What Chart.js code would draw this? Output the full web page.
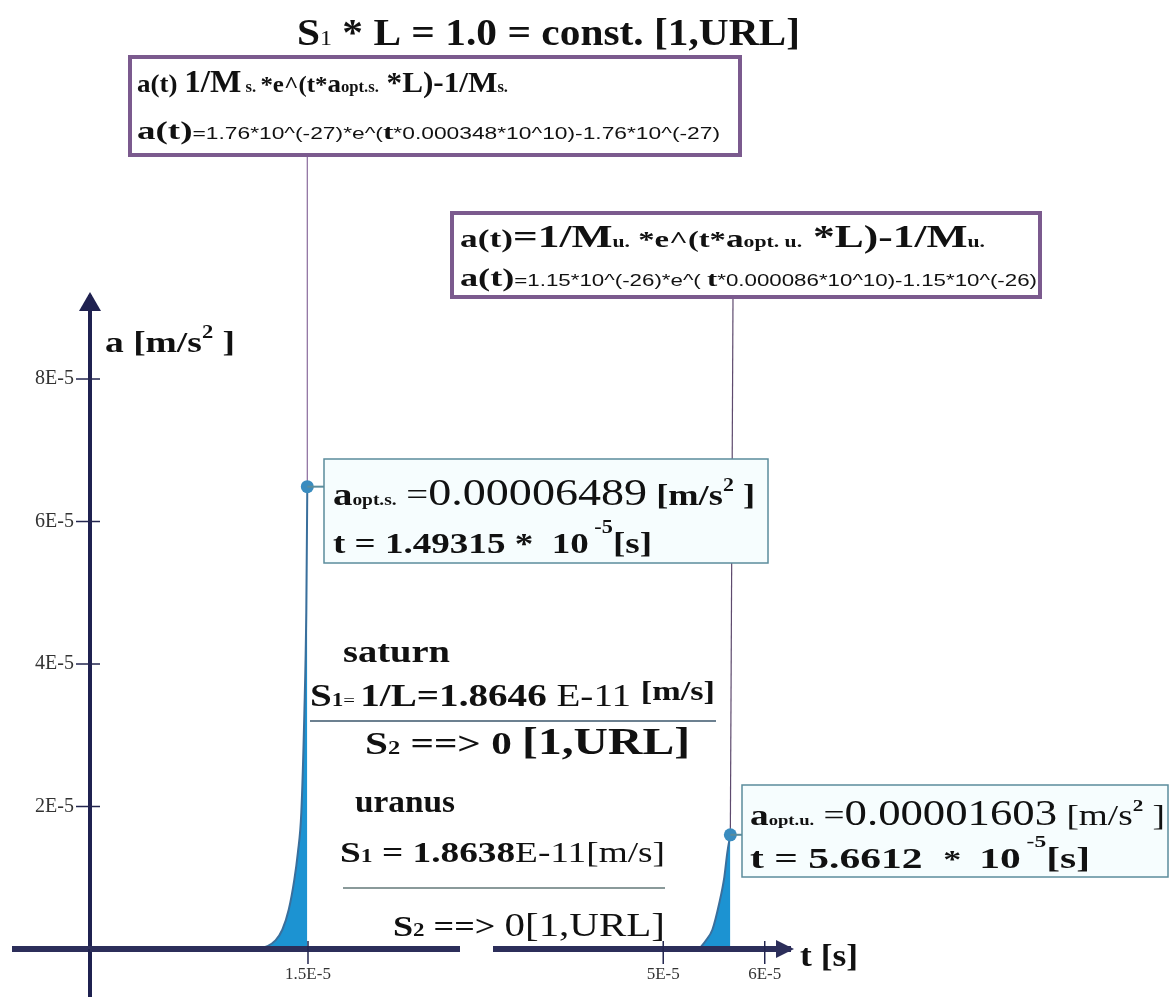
<!DOCTYPE html>
<html>
<head>
<meta charset="utf-8">
<script src="https://cdn.jsdelivr.net/npm/chart.js@4"></script>
<style>
  html, body { margin: 0; padding: 0; background: #ffffff; }
  canvas { display: block; }
</style>
</head>
<body>
<canvas id="c" width="1173" height="997"></canvas>
<script>
// Saturn: rising branch of a(t) up to the optimum point
const saturnTime  = [1.00e-5, 1.10e-5, 1.18e-5, 1.247e-5, 1.31e-5, 1.365e-5, 1.40e-5, 1.434e-5, 1.464e-5, 1.483e-5, 1.49315e-5];
const saturnAccel = [0, 0.04e-5, 0.12e-5, 0.27e-5, 0.55e-5, 0.97e-5, 1.35e-5, 1.91e-5, 3.31e-5, 4.72e-5, 6.489e-5];

// Uranus: rising branch of a(t) up to the optimum point
const uranusTime  = [5.356e-5, 5.42e-5, 5.484e-5, 5.553e-5, 5.602e-5, 5.631e-5, 5.6612e-5];
const uranusAccel = [0, 0.12e-5, 0.27e-5, 0.65e-5, 1.01e-5, 1.35e-5, 1.603e-5];

// Optimum points (a_opt, t)
const optTime  = [1.49315e-5, 5.6612e-5];
const optAccel = [6.489e-5, 1.603e-5];

// Axis ticks
const xTickValues = [1.5e-5, 5e-5, 6e-5];
const xTickLabels = ['1.5E-5', '5E-5', '6E-5'];
const yTickValues = [2e-5, 4e-5, 6e-5, 8e-5];
const yTickLabels = ['2E-5', '4E-5', '6E-5', '8E-5'];

const SERIF = '"Liberation Serif", "Times New Roman", serif';
const NARROW = '"Liberation Sans Narrow", "Liberation Sans", Arial, sans-serif';
const INK = '#111111';
const AXIS_X_COLOR = '#2c2e5a';
const AXIS_Y_COLOR = '#1f2150';

function toPoints(xs, ys) { return xs.map((x, i) => ({ x: x, y: ys[i] })); }

// Draw a line of mixed-font runs; optionally squeeze it to a given width
function drawRuns(ctx, x, y, runs, width) {
  let total = 0;
  runs.forEach(r => { ctx.font = r[1]; total += ctx.measureText(r[0]).width; });
  const sx = width ? width / total : 1;
  ctx.save();
  ctx.translate(x, y);
  ctx.scale(sx, 1);
  ctx.fillStyle = INK;
  ctx.textBaseline = 'alphabetic';
  ctx.textAlign = 'left';
  let cx = 0;
  runs.forEach(r => {
    ctx.font = r[1];
    ctx.fillText(r[0], cx, r[2] || 0);
    cx += ctx.measureText(r[0]).width;
  });
  ctx.restore();
}
function f(size, bold, fam) { return (bold ? 'bold ' : '') + size + 'px ' + (fam || SERIF); }

function box(ctx, x, y, w, h, stroke, lw, fill) {
  ctx.save();
  ctx.fillStyle = fill;
  ctx.fillRect(x, y, w, h);
  ctx.strokeStyle = stroke;
  ctx.lineWidth = lw;
  ctx.strokeRect(x, y, w, h);
  ctx.restore();
}
function line(ctx, x1, y1, x2, y2, color, lw) {
  ctx.save();
  ctx.strokeStyle = color;
  ctx.lineWidth = lw;
  ctx.beginPath();
  ctx.moveTo(x1, y1);
  ctx.lineTo(x2, y2);
  ctx.stroke();
  ctx.restore();
}

const overlay = {
  id: 'overlay',
  beforeDatasetsDraw(chart) {
    const ctx = chart.ctx;
    const xs = chart.scales.x, ys = chart.scales.y;
    const axisY = ys.getPixelForValue(0);
    const axisX = chart.chartArea.left;
    // axes continue past their crossing point
    line(ctx, 12, axisY, axisX, axisY, AXIS_X_COLOR, 6);
    line(ctx, axisX, axisY, axisX, chart.height, AXIS_Y_COLOR, 4);
    const sx = xs.getPixelForValue(optTime[0]), sy = ys.getPixelForValue(optAccel[0]);
    const ux = xs.getPixelForValue(optTime[1]), uy = ys.getPixelForValue(optAccel[1]);
    // leader lines from the formula boxes down to the optimum points
    line(ctx, sx, 155, sx, sy, '#8a6a9c', 1.2);
    line(ctx, 733, 297, ux, uy, '#5e4a6e', 1.2);
  },
  afterDatasetsDraw(chart) {
    const ctx = chart.ctx;
    const xs = chart.scales.x, ys = chart.scales.y;
    const axisY = ys.getPixelForValue(0);
    const axisX = chart.chartArea.left;

    // redraw the time axis over the foot of the filled areas, with its break
    line(ctx, axisX, axisY, chart.chartArea.right, axisY, AXIS_X_COLOR, 6);
    ctx.save();
    ctx.fillStyle = '#ffffff';
    ctx.fillRect(460, axisY - 6, 33, 12);
    ctx.restore();

    // crossing tick marks
    xTickValues.forEach(v => {
      const px = xs.getPixelForValue(v);
      line(ctx, px, axisY - 8, px, axisY + 15, '#22254f', 1.5);
    });
    yTickValues.forEach(v => {
      const py = ys.getPixelForValue(v);
      line(ctx, axisX - 14, py, axisX + 10, py, '#22254f', 1.5);
    });

    // arrow heads
    ctx.save();
    ctx.fillStyle = AXIS_Y_COLOR;
    ctx.beginPath();
    ctx.moveTo(axisX, 292);
    ctx.lineTo(axisX - 11, 311);
    ctx.lineTo(axisX + 11, 311);
    ctx.closePath();
    ctx.fill();
    ctx.fillStyle = AXIS_X_COLOR;
    ctx.beginPath();
    ctx.moveTo(794, axisY);
    ctx.lineTo(776, axisY - 9);
    ctx.lineTo(776, axisY + 9);
    ctx.closePath();
    ctx.fill();
    ctx.restore();

    const sx = xs.getPixelForValue(optTime[0]), sy = ys.getPixelForValue(optAccel[0]);
    const ux = xs.getPixelForValue(optTime[1]), uy = ys.getPixelForValue(optAccel[1]);

    // title
    drawRuns(ctx, 297, 45, [
      ['S', f(38, true)], ['1', f(22, false)], [' * L = 1.0 = const. ', f(38, true)], ['[1,URL]', f(38, true)]
    ], 503);

    // Saturn formula box
    box(ctx, 130, 57, 610, 98, '#7b5a8e', 4, '#ffffff');
    drawRuns(ctx, 137, 92, [
      ['a(t) ', f(26, true)], ['1/M', f(32, true)], [' s. ', f(16, true)], ['*e^(t*', f(24, true)],
      ['a', f(26, true)], ['opt.s.', f(16, true)], [' *L)-1/M', f(30, true)], ['s.', f(16, true)]
    ], 371);
    drawRuns(ctx, 137, 139, [
      ['a(t)', f(26, true)], ['=1.76*10^(-27)*e^(', f(16, false, NARROW)], ['t', f(22, true)],
      ['*0.000348*10^10)-1.76*10^(-27)', f(16, false, NARROW)]
    ], 583);

    // Uranus formula box
    box(ctx, 452, 213, 588, 84, '#7b5a8e', 4, '#ffffff');
    drawRuns(ctx, 460, 247, [
      ['a(t)', f(26, true)], ['=1/M', f(32, true)], ['u.', f(16, true)], [' *e^(t*', f(24, true)],
      ['a', f(26, true)], ['opt. u.', f(16, true)], [' *L)-1/M', f(32, true)], ['u.', f(16, true)]
    ], 525);
    drawRuns(ctx, 460, 286, [
      ['a(t)', f(26, true)], ['=1.15*10^(-26)*e^( ', f(16, false, NARROW)], ['t', f(22, true)],
      ['*0.000086*10^10)-1.15*10^(-26)', f(16, false, NARROW)]
    ], 577);

    // Saturn optimum label
    line(ctx, sx, sy, 324, sy, '#5b8c9c', 2);
    box(ctx, 324, 459, 444, 104, '#5b8c9c', 1.5, '#f6fdfe');
    drawRuns(ctx, 333, 505, [
      ['a', f(32, true)], ['opt.s.', f(16, true)], [' =', f(32, false)], ['0.00006489', f(38, false)],
      [' [m/s', f(30, true)], ['2', f(18, true), -14], [' ]', f(30, true)]
    ], 422);
    drawRuns(ctx, 333, 553, [
      ['t = 1.49315 *  ', f(30, true)], ['10', f(30, true)], [' -5', f(18, true), -20], ['[s]', f(30, true)]
    ], 319);

    // Uranus optimum label
    line(ctx, ux, uy, 742, uy, '#5b8c9c', 2);
    box(ctx, 742, 785, 426, 92, '#5b8c9c', 1.5, '#f6fdfe');
    drawRuns(ctx, 750, 825, [
      ['a', f(30, true)], ['opt.u.', f(15, true)], [' =', f(30, false)], ['0.00001603', f(36, false)],
      [' [m/s', f(30, false)], ['2', f(17, true), -14], [' ]', f(30, false)]
    ], 415);
    drawRuns(ctx, 750, 868, [
      ['t = 5.6612  ', f(30, true)], ['*  ', f(26, true)], ['10', f(30, true)], [' -5', f(17, true), -21], ['[s]', f(30, true)]
    ], 340);

    // Saturn block
    drawRuns(ctx, 343, 662, [['saturn', f(31, true)]], 107);
    drawRuns(ctx, 310, 706, [
      ['S', f(32, true)], ['1', f(19, true)], ['= ', f(17, false)], ['1/L=1.8646', f(32, true)],
      [' E-11 ', f(32, false)], ['[m/s]', f(28, true), -6]
    ], 405);
    line(ctx, 310, 721, 716, 721, '#6c8090', 2);
    drawRuns(ctx, 365, 754, [
      ['S', f(32, true)], ['2', f(19, true)], [' ==> 0 ', f(32, true)], ['[1,URL]', f(37, true)]
    ], 325);

    // Uranus block
    drawRuns(ctx, 355, 812, [['uranus', f(31, true)]], 100);
    drawRuns(ctx, 340, 862, [
      ['S', f(30, true)], ['1', f(19, true)], [' = 1.8638', f(30, true)], ['E-11[m/s]', f(30, false)]
    ], 325);
    line(ctx, 343, 888, 665, 888, '#8a9a9a', 2);
    drawRuns(ctx, 393, 936, [
      ['S', f(30, true)], ['2', f(19, true)], [' ==> ', f(30, true)], ['0[1,URL]', f(34, false)]
    ], 272);

    // axis titles
    drawRuns(ctx, 105, 352, [['a [m/s', f(30, true)], ['2', f(18, true), -14], [' ]', f(30, true)]], 130);
    drawRuns(ctx, 800, 966, [['t [s]', f(32, true)]], 58);
  }
};

new Chart(document.getElementById('c'), {
  type: 'line',
  data: {
    datasets: [
      {
        label: 'a_opt',
        data: toPoints(optTime, optAccel),
        showLine: false,
        pointRadius: 6.5,
        pointBackgroundColor: '#3a8cbf',
        pointBorderWidth: 0
      },
      {
        label: 'saturn',
        data: toPoints(saturnTime, saturnAccel),
        fill: 'origin',
        backgroundColor: '#1c93d2',
        borderColor: '#3a6f9c',
        borderWidth: 2,
        pointRadius: 0,
        cubicInterpolationMode: 'monotone'
      },
      {
        label: 'uranus',
        data: toPoints(uranusTime, uranusAccel),
        fill: 'origin',
        backgroundColor: '#1c93d2',
        borderColor: '#3a6f9c',
        borderWidth: 2,
        pointRadius: 0,
        cubicInterpolationMode: 'monotone'
      }
    ]
  },
  options: {
    responsive: false,
    devicePixelRatio: 1,
    animation: false,
    layout: { padding: { left: 12, right: 383, top: 297, bottom: 0 } },
    plugins: { legend: { display: false }, tooltip: { enabled: false } },
    scales: {
      x: {
        type: 'linear',
        min: -0.6478e-5,
        max: 6.249e-5,
        position: 'bottom',
        afterFit: s => { s.height = 48; },
        afterBuildTicks: s => { s.ticks = xTickValues.map(v => ({ value: v })); },
        ticks: {
          callback: (v) => xTickLabels[xTickValues.indexOf(v)],
          font: { family: 'Liberation Serif', size: 17 },
          color: '#333333',
          padding: 15,
          maxRotation: 0,
          autoSkip: false
        },
        grid: { display: true, drawOnChartArea: false, drawTicks: false, color: 'rgba(0,0,0,0)' },
        border: { display: true, color: AXIS_X_COLOR, width: 6 }
      },
      y: {
        type: 'linear',
        min: 0,
        max: 9.151e-5,
        position: 'left',
        afterFit: s => { s.width = 78; },
        afterBuildTicks: s => { s.ticks = yTickValues.map(v => ({ value: v })); },
        ticks: {
          callback: (v) => yTickLabels[yTickValues.indexOf(v)],
          font: { family: 'Liberation Serif', size: 20 },
          color: '#333333',
          padding: 16,
          autoSkip: false
        },
        grid: { display: true, drawOnChartArea: false, drawTicks: false, color: 'rgba(0,0,0,0)' },
        border: { display: true, color: AXIS_Y_COLOR, width: 4 }
      }
    }
  },
  plugins: [overlay]
});
</script>
</body>
</html>
